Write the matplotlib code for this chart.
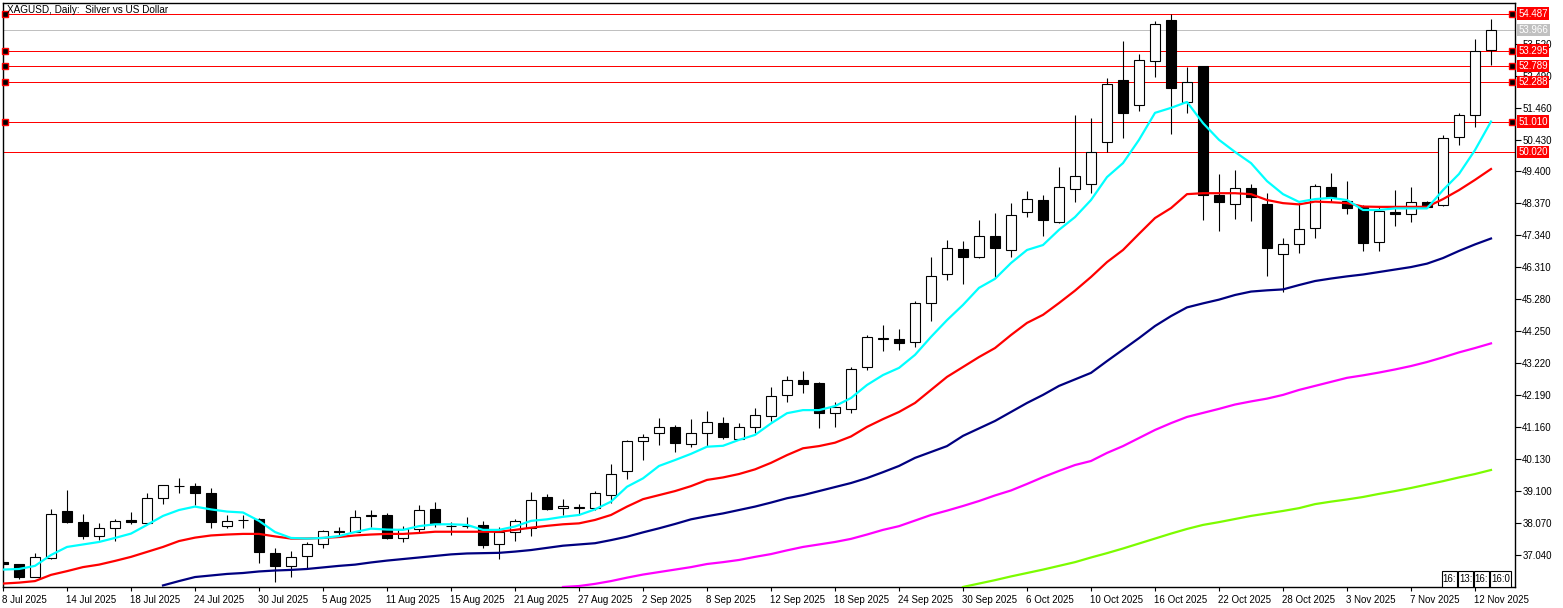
import matplotlib
matplotlib.use('Agg')
import matplotlib.pyplot as plt
from matplotlib.patches import Rectangle
import matplotlib.transforms as mtransforms

plt.rcParams['font.family'] = ['Liberation Sans', 'DejaVu Sans']

# ---------------- data ----------------
title = 'XAGUSD, Daily:  Silver vs US Dollar'

opens = [36.83, 36.75, 36.34, 36.93, 38.46, 38.10, 37.66, 37.90, 38.17, 38.06,
         38.87, 39.25, 39.26, 39.03, 37.97, 38.17, 38.20, 37.09, 36.70, 37.01,
         37.38, 37.78, 37.79, 38.30, 38.33, 37.58, 37.88, 38.52, 37.98, 37.98,
         38.00, 37.38, 37.79, 37.92, 38.91, 38.54, 38.57, 38.54, 38.99, 39.74,
         40.70, 40.96, 41.16, 40.61, 40.96, 41.28, 40.77, 41.16, 41.52, 42.20,
         42.68, 42.59, 41.61, 41.74, 43.11, 44.00, 44.00, 43.90, 45.15, 46.11,
         46.89, 46.64, 47.31, 46.86, 48.09, 48.48, 47.76, 48.83, 48.99, 50.34,
         52.35, 51.54, 52.97, 54.28, 51.63, 52.789, 48.64, 48.34, 48.86, 48.35,
         46.73, 47.05, 47.57, 48.89, 48.46, 48.25, 47.12, 48.10, 48.02, 48.43,
         48.32, 50.50, 51.22, 53.30]
highs = [36.90, 36.76, 37.11, 38.52, 39.14, 38.36, 38.06, 38.19, 38.42, 39.03,
         39.30, 39.51, 39.37, 39.19, 38.33, 38.33, 38.22, 37.26, 37.17, 37.47,
         37.86, 37.93, 38.49, 38.49, 38.40, 37.97, 38.65, 38.75, 38.11, 38.27,
         38.15, 37.95, 38.20, 39.06, 39.01, 38.84, 38.68, 39.10, 39.97, 40.75,
         40.94, 41.46, 41.23, 41.42, 41.68, 41.48, 41.30, 41.77, 42.46, 42.81,
         42.97, 42.62, 41.96, 43.09, 44.13, 44.45, 44.32, 45.23, 46.65, 47.19,
         47.16, 47.84, 48.05, 48.38, 48.77, 48.64, 49.55, 51.22, 51.13, 52.40,
         53.61, 53.19, 54.25, 54.487, 52.78, 52.80, 49.32, 49.45, 49.00, 48.70,
         47.25, 48.38, 49.00, 49.34, 49.09, 48.32, 48.27, 48.80, 48.89, 48.45,
         50.58, 51.28, 53.67, 54.32]
lows = [36.70, 36.26, 36.32, 36.90, 38.06, 37.56, 37.52, 37.49, 38.03, 38.06,
        38.68, 39.03, 38.65, 37.92, 37.90, 37.90, 36.77, 36.18, 36.34, 36.58,
        37.27, 37.68, 37.79, 37.95, 37.55, 37.47, 37.79, 37.95, 37.68, 37.90,
        37.26, 36.91, 37.50, 37.66, 38.49, 38.33, 38.33, 38.50, 38.71, 39.49,
        40.10, 40.58, 40.37, 40.53, 40.56, 40.78, 40.77, 40.96, 41.37, 41.98,
        42.25, 41.12, 41.17, 41.63, 43.00, 43.63, 43.65, 43.75, 44.58, 45.90,
        45.77, 46.60, 45.96, 46.63, 47.94, 47.32, 47.73, 48.43, 48.72, 50.04,
        50.47, 51.36, 52.46, 50.60, 51.28, 47.84, 47.49, 47.87, 47.80, 46.03,
        45.53, 46.78, 47.25, 48.43, 48.02, 46.84, 46.84, 47.64, 47.78, 48.22,
        48.30, 50.25, 50.84, 52.83]
closes = [36.76, 36.34, 36.97, 38.36, 38.10, 37.66, 37.90, 38.14, 38.10, 38.87,
          39.30, 39.28, 39.03, 38.11, 38.15, 38.18, 37.13, 36.70, 36.97, 37.38,
          37.81, 37.80, 38.25, 38.32, 37.58, 37.87, 38.49, 38.04, 37.97, 37.97,
          37.37, 37.79, 38.13, 38.81, 38.53, 38.62, 38.59, 39.03, 39.64, 40.71,
          40.83, 41.16, 40.64, 40.96, 41.32, 40.83, 41.16, 41.55, 42.16, 42.68,
          42.54, 41.63, 41.80, 43.03, 44.06, 44.02, 43.88, 45.16, 46.03, 46.93,
          46.64, 47.31, 46.94, 47.99, 48.50, 47.83, 48.89, 49.26, 50.02, 52.22,
          51.28, 52.99, 54.15, 52.10, 52.29, 48.64, 48.43, 48.86, 48.57, 46.94,
          47.05, 47.54, 48.93, 48.59, 48.23, 47.11, 48.13, 48.02, 48.43, 48.25,
          50.47, 51.22, 53.295, 53.966]

# moving averages (values per bar, starting at the given bar index)
ma_cyan_start = 0
ma_cyan = [36.57, 36.59, 36.69, 37.04, 37.30, 37.38, 37.46, 37.59, 37.73, 38.01,
           38.30, 38.49, 38.60, 38.51, 38.44, 38.41, 38.14, 37.78, 37.59, 37.57,
           37.59, 37.65, 37.78, 37.89, 37.86, 37.85, 37.97, 38.03, 38.03, 38.01,
           37.85, 37.85, 37.96, 38.14, 38.19, 38.27, 38.33, 38.51, 38.76, 39.24,
           39.51, 39.91, 40.10, 40.30, 40.53, 40.56, 40.75, 40.91, 41.28, 41.61,
           41.71, 41.71, 41.84, 42.10, 42.52, 42.84, 43.07, 43.49, 44.07, 44.61,
           45.10, 45.65, 45.94, 46.45, 46.87, 47.03, 47.52, 47.93, 48.48, 49.22,
           49.67, 50.42, 51.29, 51.45, 51.64, 50.96, 50.42, 50.03, 49.67, 49.09,
           48.67, 48.42, 48.51, 48.55, 48.48, 48.16, 48.16, 48.21, 48.21, 48.21,
           48.80, 49.32, 50.09, 51.01]
ma_red_start = 0
ma_red = [36.12, 36.15, 36.20, 36.40, 36.52, 36.65, 36.73, 36.85, 36.98, 37.14,
          37.30, 37.49, 37.60, 37.67, 37.70, 37.72, 37.72, 37.64, 37.57, 37.57,
          37.59, 37.62, 37.67, 37.70, 37.72, 37.72, 37.75, 37.79, 37.79, 37.79,
          37.79, 37.79, 37.85, 37.92, 37.98, 38.03, 38.06, 38.17, 38.33, 38.60,
          38.84, 38.97, 39.10, 39.26, 39.46, 39.54, 39.65, 39.80, 40.01, 40.26,
          40.48, 40.55, 40.66, 40.86, 41.17, 41.42, 41.65, 41.94, 42.36, 42.78,
          43.10, 43.42, 43.71, 44.13, 44.52, 44.78, 45.16, 45.56, 46.00, 46.48,
          46.87, 47.39, 47.90, 48.22, 48.67, 48.70, 48.70, 48.70, 48.67, 48.48,
          48.38, 48.34, 48.43, 48.41, 48.38, 48.27, 48.26, 48.26, 48.26, 48.26,
          48.51, 48.80, 49.13, 49.48]
ma_navy_start = 10
ma_navy = [36.06, 36.20, 36.33, 36.38, 36.43, 36.46, 36.51, 36.54, 36.56, 36.59,
           36.64, 36.69, 36.73, 36.80, 36.86, 36.91, 36.96, 37.01, 37.06, 37.09,
           37.10, 37.11, 37.15, 37.20, 37.27, 37.34, 37.38, 37.42, 37.52, 37.63,
           37.77, 37.90, 38.04, 38.19, 38.29, 38.38, 38.49, 38.60, 38.73, 38.87,
           38.97, 39.10, 39.23, 39.36, 39.52, 39.71, 39.91, 40.17, 40.36, 40.55,
           40.88, 41.12, 41.36, 41.65, 41.94, 42.20, 42.49, 42.70, 42.91, 43.29,
           43.66, 44.03, 44.42, 44.74, 45.02, 45.15, 45.27, 45.42, 45.53, 45.57,
           45.60, 45.74, 45.87, 45.95, 46.02, 46.08, 46.16, 46.24, 46.32, 46.43,
           46.61, 46.84, 47.05, 47.24]
ma_magenta_start = 35
ma_magenta = [36.01, 36.04, 36.11, 36.20, 36.31, 36.41, 36.49, 36.57, 36.65, 36.75,
              36.81, 36.88, 36.98, 37.07, 37.19, 37.30, 37.38, 37.46, 37.56, 37.70,
              37.85, 37.97, 38.15, 38.33, 38.47, 38.62, 38.78, 38.96, 39.12, 39.33,
              39.55, 39.75, 39.94, 40.07, 40.33, 40.55, 40.81, 41.07, 41.29, 41.49,
              41.62, 41.75, 41.89, 41.99, 42.08, 42.20, 42.36, 42.49, 42.62, 42.75,
              42.83, 42.92, 43.02, 43.13, 43.26, 43.41, 43.57, 43.71, 43.86]
ma_green_start = 60
ma_green = [36.01, 36.12, 36.23, 36.35, 36.46, 36.57, 36.69, 36.81, 36.96, 37.10,
            37.25, 37.41, 37.57, 37.73, 37.88, 38.01, 38.10, 38.20, 38.30, 38.38,
            38.46, 38.55, 38.68, 38.76, 38.83, 38.91, 39.01, 39.10, 39.20, 39.31,
            39.42, 39.54, 39.65, 39.78]

# horizontal levels
red_levels = [54.487, 53.295, 52.789, 52.288, 51.010, 50.020]
marked_levels = [54.487, 53.295, 52.789, 52.288, 51.010]
bid_price = 53.966

# axis ticks
y_ticks = [37.040, 38.070, 39.100, 40.130, 41.160, 42.190, 43.220, 44.250,
           45.280, 46.310, 47.340, 48.370, 49.400, 50.430, 51.460, 52.490, 53.520]
x_tick_bars = list(range(0, 93, 4))
x_tick_labels = ['8 Jul 2025', '14 Jul 2025', '18 Jul 2025', '24 Jul 2025',
                 '30 Jul 2025', '5 Aug 2025', '11 Aug 2025', '15 Aug 2025',
                 '21 Aug 2025', '27 Aug 2025', '2 Sep 2025', '8 Sep 2025',
                 '12 Sep 2025', '18 Sep 2025', '24 Sep 2025', '30 Sep 2025',
                 '6 Oct 2025', '10 Oct 2025', '16 Oct 2025', '22 Oct 2025',
                 '28 Oct 2025', '3 Nov 2025', '7 Nov 2025', '12 Nov 2025']
time_boxes = ['16:', '13:', '16:', '16:0']

# ---------------- drawing ----------------
W, H = 1563, 608
fig = plt.figure(figsize=(W / 100, H / 100), dpi=100)
fig.patch.set_facecolor('white')
ax = fig.add_axes([3 / W, 21 / H, 1512 / W, 584 / H])
ax.set_facecolor('white')

n = len(opens)
body_w = 0.62
px = 0.72  # one pixel in points

# horizontal levels (behind candles)
for lv in red_levels:
    ax.axhline(lv, color='#FF0000', lw=px, zorder=1)
ax.axhline(bid_price, color='#C0C0C0', lw=px, zorder=1)

# candles
for i in range(n):
    o, h, l, c = opens[i], highs[i], lows[i], closes[i]
    ax.vlines(i, l, h, color='black', lw=px * 1.1, zorder=3)
    bottom = min(o, c)
    height = abs(c - o)
    fc = 'white' if c >= o else 'black'
    ax.add_patch(Rectangle((i - body_w / 2, bottom), body_w, max(height, 0.005),
                           facecolor=fc, edgecolor='black', lw=px * 1.1, zorder=4))

# moving averages
for start, vals, col in [(ma_green_start, ma_green, '#7CFC00'),
                         (ma_magenta_start, ma_magenta, '#FF00FF'),
                         (ma_navy_start, ma_navy, '#000080'),
                         (ma_red_start, ma_red, '#FF0000'),
                         (ma_cyan_start, ma_cyan, '#00FFFF')]:
    ax.plot(range(start, start + len(vals)), vals, color=col, lw=1.6, zorder=5,
            solid_joinstyle='round')

ax.set_xlim(0, 94.5)
ax.set_ylim(36.009, 54.83)

# end markers on the levels
for lv in marked_levels:
    for xm in (0.125, 94.3):
        ax.plot([xm], [lv], marker='s', ms=4.2, mfc='black', mec='#FF0000',
                mew=1.0, zorder=8, clip_on=False)

# axes styling
for s in ax.spines.values():
    s.set_color('black')
    s.set_linewidth(1.0)
ax.yaxis.tick_right()
ax.set_yticks(y_ticks)
ax.set_yticklabels([f'{v:.3f}' for v in y_ticks])
ax.tick_params(axis='y', direction='out', length=4, width=0.8, pad=1.2,
               labelsize=7, colors='black')
ax.set_xticks(x_tick_bars)
ax.set_xticklabels(x_tick_labels)
ax.tick_params(axis='x', direction='out', length=3, width=0.8, pad=2.5,
               labelsize=7, colors='black')
for lbl in ax.get_xticklabels():
    lbl.set_ha('left')
    lbl.set_transform(lbl.get_transform() +
                      mtransforms.ScaledTranslation(-1 / 100, 0, fig.dpi_scale_trans))

# price labels on the right (drawn over the regular tick labels, as in MT4)
ytr = ax.get_yaxis_transform()
for lv in red_levels:
    ax.text(1.0024, lv, f'{lv:.3f}', transform=ytr, ha='left', va='center',
            color='white', fontsize=7, zorder=10, clip_on=False,
            bbox=dict(boxstyle='square,pad=0.12', fc='#FF0000', ec='none'))
ax.text(1.0024, bid_price, f'{bid_price:.3f}', transform=ytr, ha='left',
        va='center', color='white', fontsize=7, zorder=10, clip_on=False,
        bbox=dict(boxstyle='square,pad=0.12', fc='#C0C0C0', ec='none'))

# title
ax.text(0.0027, 0.997, title, transform=ax.transAxes, ha='left', va='top',
        fontsize=7.2, color='black', zorder=9)

# time boxes at bottom right (axes-fraction layout)
box_left = [(1442 - 3) / 1512, (1458 - 3) / 1512, (1474 - 3) / 1512, (1490 - 3) / 1512]
box_w = [15 / 1512, 15 / 1512, 15 / 1512, 21 / 1512]
box_h = 16 / 584
for lbl, bl, bw in zip(time_boxes, box_left, box_w):
    ax.add_patch(Rectangle((bl, 0.0), bw, box_h, transform=ax.transAxes,
                           facecolor='white', edgecolor='black', lw=0.8, zorder=9))
    ax.text(bl + bw / 2, box_h / 2, lbl, transform=ax.transAxes, ha='center',
            va='center', fontsize=7, color='black', zorder=10, clip_on=True)

fig.savefig('out.png', dpi=100, facecolor='white')
